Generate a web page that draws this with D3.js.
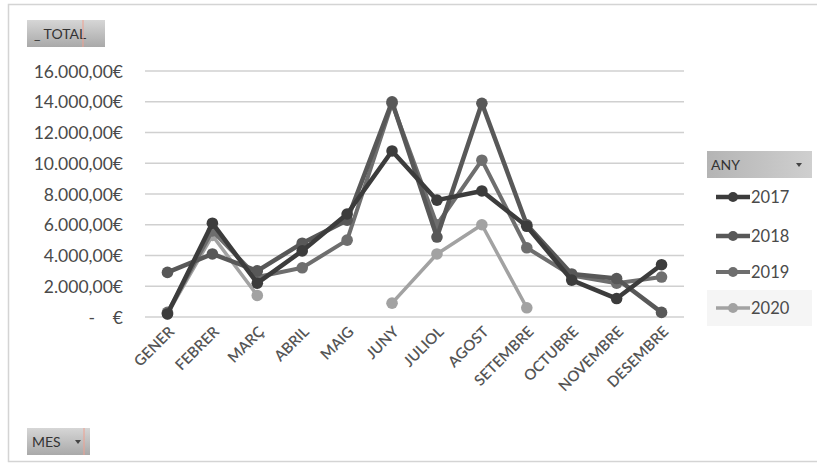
<!DOCTYPE html>
<html>
<head>
<meta charset="utf-8">
<script src="https://cdn.jsdelivr.net/npm/d3@7/dist/d3.min.js"></script>
<style>
  html, body { margin: 0; padding: 0; background: #fff; }
  svg { display: block; }
</style>
</head>
<body>
<svg id="chart" width="817" height="467"></svg>
<script>
const months = ["GENER","FEBRER","MARÇ","ABRIL","MAIG","JUNY","JULIOL","AGOST","SETEMBRE","OCTUBRE","NOVEMBRE","DESEMBRE"];
const years = ["2017","2018","2019","2020"];
const values2017 = [200, 6100, 2200, 4300, 6700, 10800, 7600, 8200, 5900, 2400, 1200, 3400];
const values2018 = [2900, 4100, 3000, 4800, 6300, 14000, 5200, 13900, 6000, 2800, 2500, 300];
const values2019 = [300, 5600, 2600, 3200, 5000, 13900, 6000, 10200, 4500, 2700, 2200, 2600];
const values2020 = [200, 5300, 1400, null, null, 900, 4100, 6000, 600, null, null, null];
const yTicks = [0, 2000, 4000, 6000, 8000, 10000, 12000, 14000, 16000];
const yTickLabels = ["-    €", "2.000,00€", "4.000,00€", "6.000,00€", "8.000,00€", "10.000,00€", "12.000,00€", "14.000,00€", "16.000,00€"];

const seriesValues = [values2017, values2018, values2019, values2020];
const colors = ["#3c3c3c", "#585858", "#6e6e6e", "#a2a2a2"];
const widths = [4.5, 4.5, 4, 3.5];

const svg = d3.select("#chart");
const font = "Lato, 'Noto Sans', sans-serif";

// outer frame
svg.append("rect").attr("x", 8.5).attr("y", 4.5).attr("width", 830).attr("height", 457)
  .attr("fill", "none").attr("stroke", "#d4d4d4").attr("stroke-width", 1.5);

const defs = svg.append("defs");
const grad = defs.append("linearGradient").attr("id", "btn").attr("x1", 0).attr("y1", 0).attr("x2", 0).attr("y2", 1);
grad.append("stop").attr("offset", "0%").attr("stop-color", "#d6d6d6");
grad.append("stop").attr("offset", "100%").attr("stop-color", "#a9a9a9");
const grad2 = defs.append("linearGradient").attr("id", "btn2").attr("x1", 0).attr("y1", 0).attr("x2", 1).attr("y2", 0);
grad2.append("stop").attr("offset", "0%").attr("stop-color", "#b4b4b4");
grad2.append("stop").attr("offset", "100%").attr("stop-color", "#cfcfcf");

const x = d3.scaleBand().domain(months).range([145, 684]);
const y = d3.scaleLinear().domain([0, 16000]).range([317, 71]);
const cx = m => x(m) + x.bandwidth() / 2;

// gridlines
svg.append("g").selectAll("line").data(yTicks).join("line")
  .attr("x1", 145).attr("x2", 684)
  .attr("y1", d => y(d)).attr("y2", d => y(d))
  .attr("stroke", "#d0d0d0").attr("stroke-width", 1.6);

// y axis labels
const yAxis = d3.axisLeft(y).tickValues(yTicks).tickSize(0).tickPadding(0)
  .tickFormat((d, i) => yTickLabels[i]);
const yg = svg.append("g").attr("transform", "translate(123,0)").call(yAxis);
yg.select(".domain").remove();
yg.selectAll("text").attr("font-family", font).attr("font-size", 17.5)
  .attr("fill", "#4a4a4a").style("white-space", "pre").attr("dy", "0.35em");

// x axis labels
const xAxis = d3.axisBottom(x).tickSize(0).tickPadding(0);
const xg = svg.append("g").attr("transform", "translate(0,325)").call(xAxis);
xg.select(".domain").remove();
xg.selectAll("text")
  .attr("font-family", font).attr("font-size", 15).attr("font-weight", 600)
  .attr("fill", "#555")
  .attr("text-anchor", "end")
  .attr("dy", "0.35em")
  .attr("transform", "translate(4,4) rotate(-45)");

// lines
const line = d3.line()
  .defined(d => d.v !== null)
  .x(d => cx(d.m))
  .y(d => y(d.v));

const order = [3, 2, 1, 0];
order.forEach(si => {
  const data = months.map((m, i) => ({ m, v: seriesValues[si][i] }));
  const g = svg.append("g");
  g.append("path").datum(data).attr("d", line)
    .attr("fill", "none").attr("stroke", colors[si]).attr("stroke-width", widths[si])
    .attr("stroke-linejoin", "round");
  g.selectAll("circle").data(data.filter(d => d.v !== null)).join("circle")
    .attr("cx", d => cx(d.m)).attr("cy", d => y(d.v)).attr("r", 5.8)
    .attr("fill", colors[si]);
});

// _TOTAL button
svg.append("rect").attr("x", 27).attr("y", 20).attr("width", 78).attr("height", 27).attr("fill", "url(#btn)");
svg.append("text").attr("x", 34).attr("y", 39).text("_ TOTAL")
  .attr("font-family", font).attr("font-size", 14).attr("fill", "#333");
svg.append("line").attr("x1", 83).attr("x2", 83).attr("y1", 20).attr("y2", 47).attr("stroke", "#f0a090").attr("stroke-width", 1);

// MES button
svg.append("rect").attr("x", 27).attr("y", 428).attr("width", 63).attr("height", 27).attr("fill", "url(#btn)");
svg.append("text").attr("x", 32).attr("y", 447).text("MES")
  .attr("font-family", font).attr("font-size", 14).attr("fill", "#333");
svg.append("path").attr("d", "M75,440 l6,0 l-3,4 z").attr("fill", "#444");
svg.append("line").attr("x1", 84).attr("x2", 84).attr("y1", 428).attr("y2", 455).attr("stroke", "#f0a090").attr("stroke-width", 1);

// legend
svg.append("rect").attr("x", 707).attr("y", 151).attr("width", 105).attr("height", 27).attr("fill", "url(#btn2)");
svg.append("text").attr("x", 711).attr("y", 170).text("ANY")
  .attr("font-family", font).attr("font-size", 14).attr("fill", "#333");
svg.append("path").attr("d", "M796,163 l6,0 l-3,4 z").attr("fill", "#444");
svg.append("rect").attr("x", 707).attr("y", 290).attr("width", 105).attr("height", 36).attr("fill", "#f5f5f5");

const legY = [197, 236, 272, 308];
const leg = svg.append("g").selectAll("g").data(years).join("g")
  .attr("transform", (d, i) => `translate(0,${legY[i]})`);
leg.append("line").attr("x1", 716).attr("x2", 750).attr("y1", 0).attr("y2", 0)
  .attr("stroke", (d, i) => colors[i]).attr("stroke-width", (d, i) => widths[i]);
leg.append("circle").attr("cx", 733).attr("cy", 0).attr("r", 5).attr("fill", (d, i) => colors[i]);
leg.append("text").attr("x", 751).attr("y", 0).attr("dy", "0.35em").text(d => d)
  .attr("font-family", font).attr("font-size", 16.5).attr("fill", "#4a4a4a");
</script>
</body>
</html>
